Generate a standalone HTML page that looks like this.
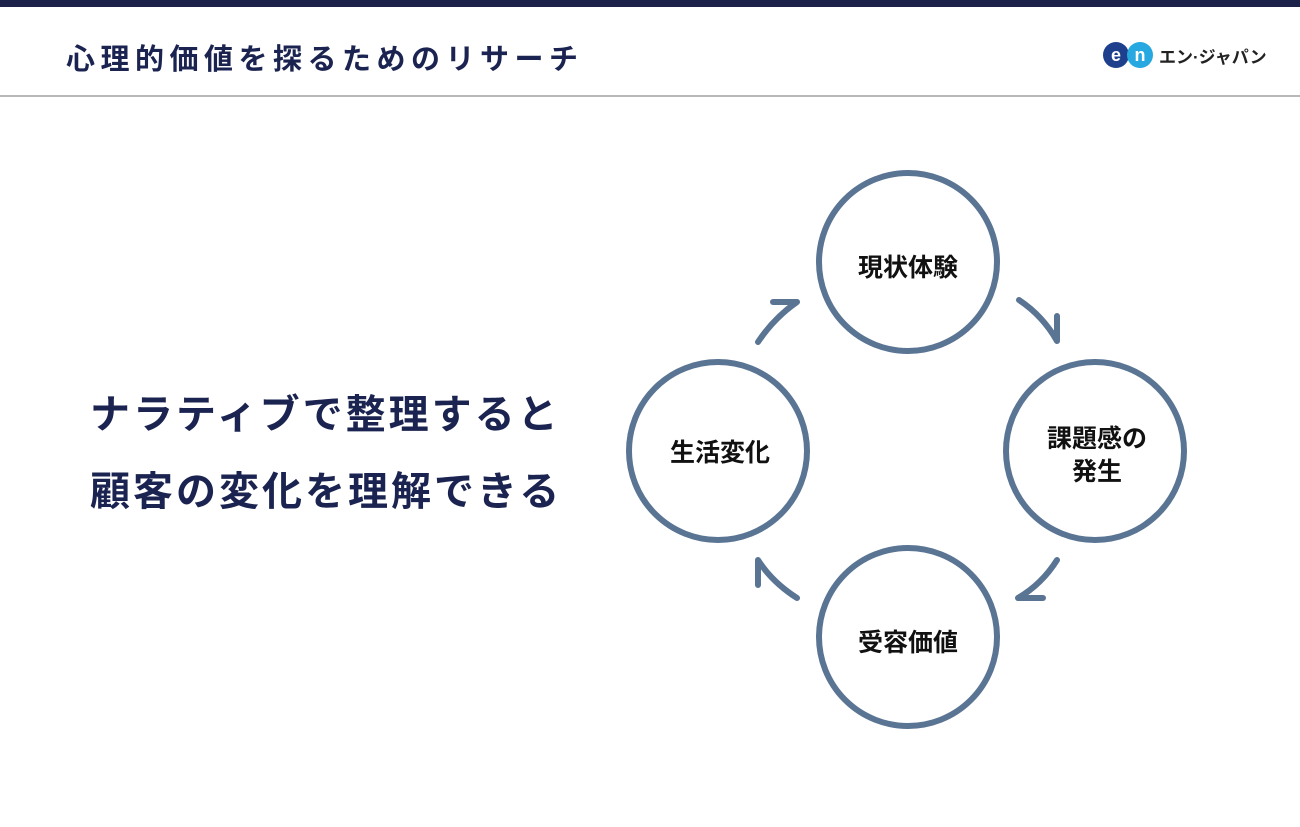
<!DOCTYPE html>
<html><head><meta charset="utf-8"><style>
body{margin:0;width:1300px;height:827px;background:#fff;position:relative;overflow:hidden;font-family:"Liberation Sans","Noto Sans CJK JP",sans-serif;}
.top{position:absolute;left:0;top:0;width:1300px;height:7px;background:#1b2148;}
.title{position:absolute;left:66px;top:36px;font-size:29px;font-weight:bold;color:#1b2350;letter-spacing:5.5px;white-space:nowrap;}
.hr{position:absolute;left:0;top:95px;width:1300px;height:2px;background:#b8b8b8;}
.main{position:absolute;left:90px;top:377px;font-size:40px;font-weight:bold;color:#1b2350;line-height:77px;letter-spacing:3px;white-space:nowrap;}
.logo{position:absolute;left:1102px;top:40px;}
.lt{position:absolute;left:1159px;top:43px;font-size:17px;font-weight:bold;color:#222;}
</style></head><body>
<div class="top"></div>
<div class="title">心理的価値を探るためのリサーチ</div>
<div class="hr"></div>
<svg class="logo" width="56" height="30"><circle cx="14" cy="15" r="13" fill="#1d3f8c"/><circle cx="38" cy="15" r="13" fill="#27a8e0"/><text x="14" y="21" font-size="18" font-weight="bold" fill="#fff" text-anchor="middle" font-family="Liberation Sans">e</text><text x="38" y="21" font-size="18" font-weight="bold" fill="#fff" text-anchor="middle" font-family="Liberation Sans">n</text></svg>
<div class="lt">エン·ジャパン</div>
<div class="main">ナラティブで整理すると<br>顧客の変化を理解できる</div>
<svg width="1300" height="827" style="position:absolute;left:0;top:0" font-family="Liberation Sans, Noto Sans CJK JP, sans-serif">
<g fill="none" stroke="#5a7494" stroke-width="6" stroke-linecap="round">
<circle cx="908" cy="262" r="89"/>
<circle cx="718" cy="451" r="89"/>
<circle cx="1095" cy="451" r="89"/>
<circle cx="908" cy="637" r="89"/>
<path d="M758 342 Q774 318 797 302 M773 302 L797 302"/>
<path d="M1019 300 Q1043 316 1057 341 M1057 316 L1057 341"/>
<path d="M1057 560 Q1042 584 1018 598 M1018 598 L1043 598"/>
<path d="M797 598 Q772 582 758 560 M758 560 L758 585"/>
</g>
<g font-size="25" font-weight="bold" fill="#111" text-anchor="middle">
<text x="908" y="276">現状体験</text>
<text x="720" y="461">生活変化</text>
<text x="1097" y="447">課題感の</text>
<text x="1097" y="480">発生</text>
<text x="908" y="651">受容価値</text>
</g>
</svg>
</body></html>
